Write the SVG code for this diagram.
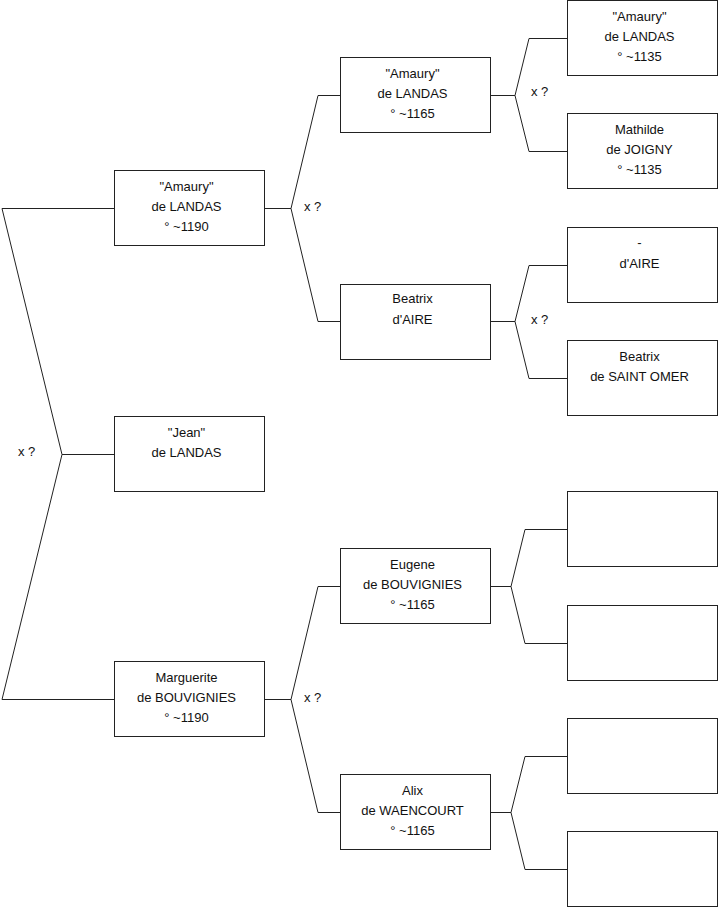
<svg xmlns="http://www.w3.org/2000/svg" width="719" height="908" viewBox="0 0 719 908">
<style>
.box{fill:#fff;stroke:#222;stroke-width:1}
.ln{fill:none;stroke:#222;stroke-width:1}
text{font-family:"Liberation Sans",Arial,sans-serif;font-size:13px;fill:#111}
.c{text-anchor:middle}
</style>
<rect width="719" height="908" fill="#fff"/>
<g id="connectors">
<polyline class="ln" points="114,208.5 2,208.5 62,454.5 2,699.5 114,699.5"/>
<line class="ln" x1="62" y1="454.5" x2="114" y2="454.5"/>
<polyline class="ln" points="340,95.5 318,95.5 291,208.5 318,321.5 340,321.5"/>
<line class="ln" x1="264.5" y1="208.5" x2="291" y2="208.5"/>
<polyline class="ln" points="340,586.5 318,586.5 291,699.5 318,812.5 340,812.5"/>
<line class="ln" x1="264.5" y1="699.5" x2="291" y2="699.5"/>
<polyline class="ln" points="567,38.5 529,38.5 515,95.5 529,151.5 567,151.5"/>
<line class="ln" x1="490.5" y1="95.5" x2="515" y2="95.5"/>
<polyline class="ln" points="567,265.5 529,265.5 515,321.5 529,378.5 567,378.5"/>
<line class="ln" x1="490.5" y1="321.5" x2="515" y2="321.5"/>
<polyline class="ln" points="567,529.5 525,529.5 511,586.5 525,643.5 567,643.5"/>
<line class="ln" x1="490.5" y1="586.5" x2="511" y2="586.5"/>
<polyline class="ln" points="567,756.5 525,756.5 511,812.5 525,869.5 567,869.5"/>
<line class="ln" x1="490.5" y1="812.5" x2="511" y2="812.5"/>
<text x="18" y="456">x ?</text>
<text x="304" y="211">x ?</text>
<text x="304" y="702">x ?</text>
<text x="531" y="96">x ?</text>
<text x="531" y="324">x ?</text>
</g>
<g id="n_amaury1190"><rect class="box" x="114.5" y="170.5" width="150" height="75"/>
<text class="c" x="186.5" y="191">"Amaury"</text><text class="c" x="186.5" y="211">de LANDAS</text><text class="c" x="186.5" y="231">° ~1190</text></g>
<g id="n_jean"><rect class="box" x="114.5" y="416.5" width="150" height="75"/>
<text class="c" x="186.5" y="437">"Jean"</text><text class="c" x="186.5" y="457">de LANDAS</text></g>
<g id="n_marguerite"><rect class="box" x="114.5" y="661.5" width="150" height="75"/>
<text class="c" x="186.5" y="682">Marguerite</text><text class="c" x="186.5" y="702">de BOUVIGNIES</text><text class="c" x="186.5" y="722">° ~1190</text></g>
<g id="n_amaury1165"><rect class="box" x="340.5" y="57.5" width="150" height="75"/>
<text class="c" x="412.5" y="78">"Amaury"</text><text class="c" x="412.5" y="98">de LANDAS</text><text class="c" x="412.5" y="118">° ~1165</text></g>
<g id="n_beatrix_aire"><rect class="box" x="340.5" y="284.5" width="150" height="75"/>
<text class="c" x="412.5" y="303">Beatrix</text><text class="c" x="412.5" y="324">d'AIRE</text></g>
<g id="n_eugene"><rect class="box" x="340.5" y="548.5" width="150" height="75"/>
<text class="c" x="412.5" y="569">Eugene</text><text class="c" x="412.5" y="589">de BOUVIGNIES</text><text class="c" x="412.5" y="609">° ~1165</text></g>
<g id="n_alix"><rect class="box" x="340.5" y="774.5" width="150" height="75"/>
<text class="c" x="412.5" y="795">Alix</text><text class="c" x="412.5" y="815">de WAENCOURT</text><text class="c" x="412.5" y="835">° ~1165</text></g>
<g id="n_amaury1135"><rect class="box" x="567.5" y="0.5" width="150" height="75"/>
<text class="c" x="639.5" y="21">"Amaury"</text><text class="c" x="639.5" y="41">de LANDAS</text><text class="c" x="639.5" y="61">° ~1135</text></g>
<g id="n_mathilde"><rect class="box" x="567.5" y="113.5" width="150" height="75"/>
<text class="c" x="639.5" y="134">Mathilde</text><text class="c" x="639.5" y="154">de JOIGNY</text><text class="c" x="639.5" y="174">° ~1135</text></g>
<g id="n_aire"><rect class="box" x="567.5" y="227.5" width="150" height="75"/>
<text class="c" x="639.5" y="247">-</text><text class="c" x="639.5" y="268">d'AIRE</text></g>
<g id="n_beatrix_so"><rect class="box" x="567.5" y="340.5" width="150" height="75"/>
<text class="c" x="639.5" y="361">Beatrix</text><text class="c" x="639.5" y="381">de SAINT OMER</text></g>
<g id="n_blank1"><rect class="box" x="567.5" y="491.5" width="150" height="75"/></g>
<g id="n_blank2"><rect class="box" x="567.5" y="605.5" width="150" height="75"/></g>
<g id="n_blank3"><rect class="box" x="567.5" y="718.5" width="150" height="75"/></g>
<g id="n_blank4"><rect class="box" x="567.5" y="831.5" width="150" height="75"/></g>
</svg>
